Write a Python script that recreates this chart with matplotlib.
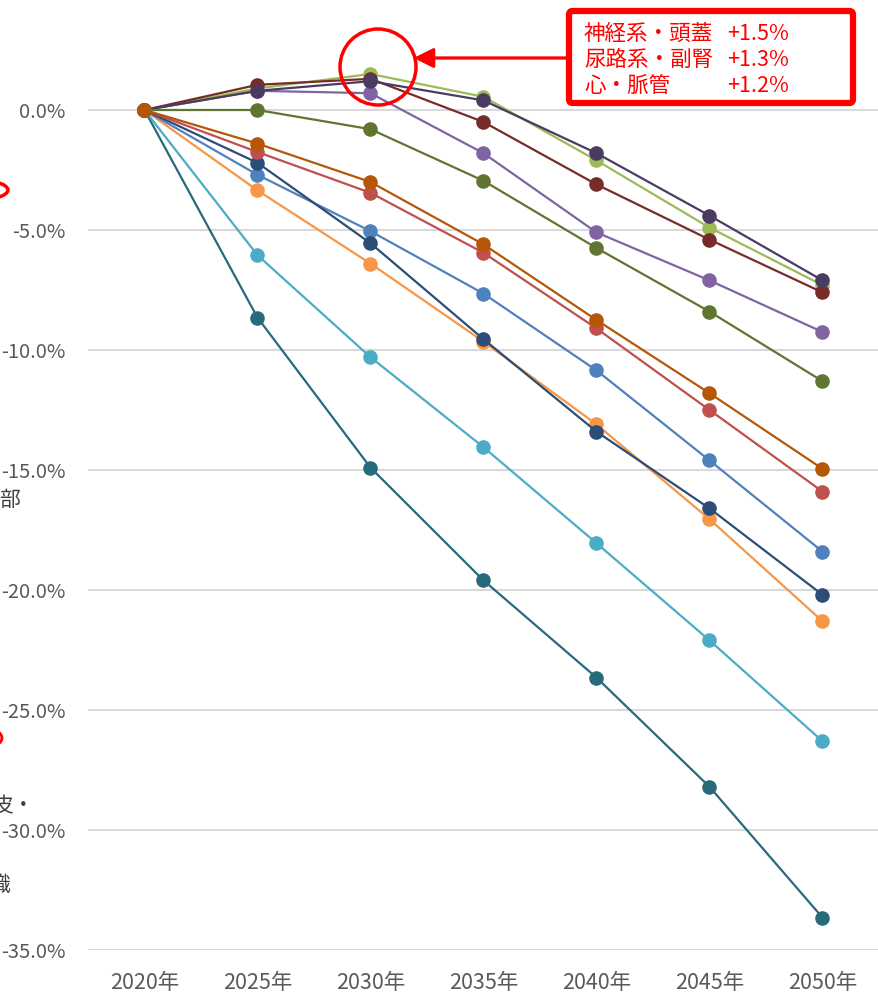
import numpy as np
import matplotlib.pyplot as plt
from matplotlib.patches import Ellipse, FancyBboxPatch

plt.rcParams['font.family'] = ['Noto Sans CJK JP', 'DejaVu Sans']

# data (percent change vs 2020)
years = ['2020年', '2025年', '2030年', '2035年', '2040年', '2045年', '2050年']

teal = [0, -8.65, -14.9, -19.6, -23.65, -28.2, -33.65]
cyan = [0, -6.05, -10.3, -14.05, -18.05, -22.1, -26.3]
orange = [0, -3.35, -6.4, -9.65, -13.1, -17.05, -21.3]
blue = [0, -2.7, -5.05, -7.65, -10.85, -14.6, -18.4]
navy = [0, -2.2, -5.55, -9.55, -13.4, -16.6, -20.2]
red = [0, -1.75, -3.45, -5.95, -9.1, -12.5, -15.9]
purple = [0, 0.8, 0.7, -1.8, -5.1, -7.1, -9.25]
shinkei = [0, 0.9, 1.5, 0.55, -2.1, -4.9, -7.3]      # 神経系・頭蓋
nyoro = [0, 1.05, 1.3, -0.5, -3.1, -5.4, -7.6]        # 尿路系・副腎
shin = [0, 0.8, 1.2, 0.4, -1.8, -4.4, -7.1]           # 心・脈管
olive = [0, 0.0, -0.8, -2.95, -5.75, -8.4, -11.3]
brown = [0, -1.4, -3.0, -5.6, -8.75, -11.8, -14.95]

series = [
    (teal, '#276A7C'),
    (cyan, '#4BACC6'),
    (orange, '#F79646'),
    (blue, '#4F81BD'),
    (navy, '#2C4D75'),
    (red, '#C0504D'),
    (purple, '#8064A2'),
    (shinkei, '#9BBB59'),
    (nyoro, '#772C2A'),
    (shin, '#4B3B63'),
    (olive, '#5F7530'),
    (brown, '#B65708'),
]

note_names = ['神経系・頭蓋', '尿路系・副腎', '心・脈管']
note_values = ['+1.5%', '+1.3%', '+1.2%']

W, H = 879, 997
fig = plt.figure(figsize=(W / 100, H / 100), dpi=100)
ax = fig.add_axes([88 / W, (H - 950) / H, 1 - 88 / W, 950 / H])

x = np.arange(len(years))
for vals, c in series:
    ax.plot(x, vals, color=c, lw=1.6, marker='o', markersize=10.5,
            markeredgewidth=0, clip_on=False)

ax.set_xlim(-0.5, len(years) - 0.5)
ax.set_ylim(-35, 110 / 24)
ax.set_yticks(np.arange(-35, 1, 5))
ax.set_yticklabels([f'{v:.1f}%' for v in np.arange(-35, 1, 5)])
ax.set_xticks(x)
ax.set_xticklabels(years)
ax.tick_params(length=0, colors='#595959')
ax.tick_params(axis='y', pad=16, labelsize=14.5)
ax.tick_params(axis='x', pad=16, labelsize=15.5)
ax.grid(axis='y', color='#d9d9d9', lw=1.5)
ax.set_axisbelow(True)
for s in ax.spines.values():
    s.set_visible(False)

# helpers in pixel coords
def fx(px):
    return px / W

def fy(py):
    return 1 - py / H

# callout box
box = FancyBboxPatch((fx(569), fy(103)), fx(284), 92 / H,
                     boxstyle='round,pad=0,rounding_size=0.004',
                     transform=fig.transFigure, fc='white', ec='#FF0000',
                     lw=4.5, zorder=10)
fig.patches.append(box)
for i, (n, v) in enumerate(zip(note_names, note_values)):
    yy = fy(34 + i * 26)
    fig.text(fx(584), yy, n, color='#FF0000', fontsize=15.5, va='center', zorder=11)
    fig.text(fx(727), yy, v, color='#FF0000', fontsize=15.5, va='center', zorder=11)

# circle + arrow
circ = Ellipse((fx(378), fy(67)), 76 / W, 76 / H, transform=fig.transFigure,
               fill=False, ec='#FF0000', lw=2.5, zorder=10)
fig.patches.append(circ)
fig.add_artist(plt.annotate('', xy=(fx(414), fy(58)), xytext=(fx(566), fy(58)),
                            xycoords='figure fraction', textcoords='figure fraction',
                            arrowprops=dict(arrowstyle='-|>,head_length=1.2,head_width=0.6',
                                            color='#FF0000', lw=2, shrinkA=0, shrinkB=0)))

# fragments cut off at the left edge (as in the cropped original)
fig.patches.append(Ellipse((fx(-30), fy(190)), 76 / W, 22 / H, transform=fig.transFigure,
                           fill=False, ec='#FF0000', lw=2.5))
fig.patches.append(Ellipse((fx(-40), fy(738)), 84 / W, 30 / H, transform=fig.transFigure,
                           fill=False, ec='#FF0000', lw=2.0))
fig.text(fx(-1), fy(500), '部', fontsize=15, color='#404040', va='center')
fig.text(fx(-8), fy(806), '皮・', fontsize=15, color='#404040', va='center')
fig.text(fx(-11), fy(885), '織', fontsize=15, color='#404040', va='center')

fig.savefig('out.png', dpi=100)
